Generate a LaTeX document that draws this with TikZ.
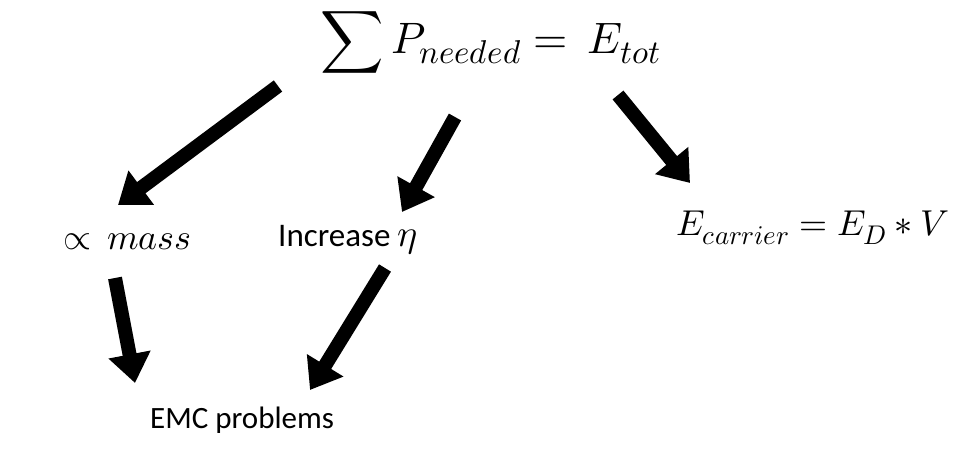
\documentclass[tikz,border=0pt]{standalone}
\usepackage{fontspec}
\usepackage{unicode-math}
\setmainfont{Carlito}
\setmathfont{Latin Modern Math}
\DeclareMathSizes{36}{36}{27}{20}
\DeclareMathSizes{44}{44}{33}{24}
\usetikzlibrary{arrows.meta}
\begin{document}
\begin{tikzpicture}[x=1pt,y=-1pt,
  blk/.style={line width=14pt, -{Triangle[length=29pt,width=41pt]}},
  lbl/.style={inner sep=0pt, font=\fontsize{31}{36}\selectfont},
  mth/.style={inner sep=0pt, font=\fontsize{36}{42}\selectfont},
  bigmth/.style={inner sep=0pt, font=\fontsize{44}{50}\selectfont}]
\useasboundingbox (0,0) rectangle (968,458);
\node[bigmth, anchor=west] (top) at (320,42) {$\displaystyle\sum P_{needed} =\, E_{tot}$};
\node[mth, anchor=west] (mass) at (63,242) {$\propto\, mass$};
\node[lbl, anchor=west, font=\fontsize{33}{38}\selectfont] (inc) at (278,240) {Increase {\fontsize{38}{44}\selectfont$\eta$}};
\node[mth, anchor=west] (ec) at (676,228) {$E_{carrier} = E_D * V$};
\node[lbl, anchor=west] (emc) at (150,420) {EMC problems};
\coordinate (a1s) at (278,86);  \coordinate (a1e) at (118,205);
\coordinate (a2s) at (455,117); \coordinate (a2e) at (402,212);
\coordinate (a3s) at (618,95);  \coordinate (a3e) at (690,183);
\coordinate (a4s) at (115,278); \coordinate (a4e) at (135,383);
\coordinate (a5s) at (385,268); \coordinate (a5e) at (310,390);
\draw[blk] (a1s) -- (a1e);
\draw[blk] (a2s) -- (a2e);
\draw[blk] (a3s) -- (a3e);
\draw[blk] (a4s) -- (a4e);
\draw[blk] (a5s) -- (a5e);
\end{tikzpicture}
\end{document}
